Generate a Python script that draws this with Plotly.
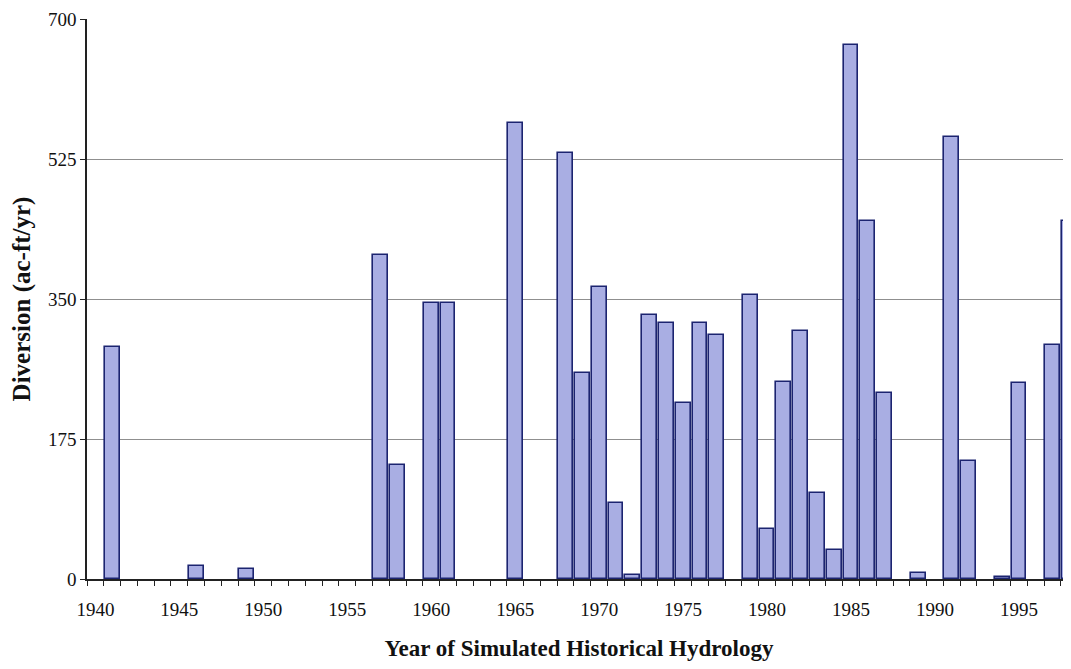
import plotly.graph_objects as go

years = [1941, 1946, 1949, 1957, 1958, 1960, 1961, 1965, 1968, 1969, 1970,
         1971, 1972, 1973, 1974, 1975, 1976, 1977, 1979, 1980, 1981, 1982,
         1983, 1984, 1985, 1986, 1987, 1989, 1991, 1992, 1994, 1995, 1997, 1998]
diversion = [290, 16, 12, 405, 142, 345, 345, 570, 532, 258, 365,
             95, 5, 330, 320, 220, 320, 305, 355, 62, 246, 310,
             107, 36, 668, 447, 232, 7, 553, 148, 2, 245, 292, 447]

x_tick_vals = [1940, 1945, 1950, 1955, 1960, 1965, 1970, 1975, 1980, 1985, 1990, 1995]
x_tick_text = [str(v) for v in x_tick_vals]
y_tick_vals = [0, 175, 350, 525, 700]
y_tick_text = [str(v) for v in y_tick_vals]

serif = "Liberation Serif, Times New Roman, serif"

fig = go.Figure()
fig.add_trace(go.Bar(
    x=years, y=diversion, width=0.88,
    marker=dict(color="#A9AEE3", line=dict(color="#1C2470", width=1.6)),
    showlegend=False,
))

# page body has an 8px default margin, so the figure is offset by 8px
fig.update_layout(
    width=1063, height=653,
    margin=dict(l=79, r=0, t=11, b=82, autoexpand=False),
    paper_bgcolor="white", plot_bgcolor="white",
    font=dict(family=serif, color="#111111"),
    bargap=0,
)

fig.update_xaxes(
    range=[1939.5, 1998.1], automargin=False,
    tickmode="array", tickvals=x_tick_vals, ticktext=x_tick_text,
    ticks="", tickfont=dict(size=19, family=serif),
    ticklabelstandoff=12,
    minor=dict(ticks="outside", tickmode="linear", tick0=1939.5, dtick=1,
               ticklen=5, tickcolor="#222222", showgrid=False),
    showline=True, linecolor="#222222", linewidth=1.5,
    showgrid=False, zeroline=False,
    title=dict(text="<b>Year of Simulated Historical Hydrology</b>",
               font=dict(size=23, family=serif), standoff=22),
)

fig.update_yaxes(
    range=[0, 700], automargin=False,
    tickmode="array", tickvals=y_tick_vals, ticktext=y_tick_text,
    ticks="outside", ticklen=5, tickcolor="#222222",
    tickfont=dict(size=19, family=serif),
    ticklabelstandoff=0,
    showline=True, linecolor="#222222", linewidth=1.5,
    showgrid=True, gridcolor="#8f8f8f", gridwidth=1,
    zeroline=False,
    title=dict(text="<b>Diversion (ac-ft/yr)</b>",
               font=dict(size=25, family=serif), standoff=21),
)

fig.write_html("out.html")
